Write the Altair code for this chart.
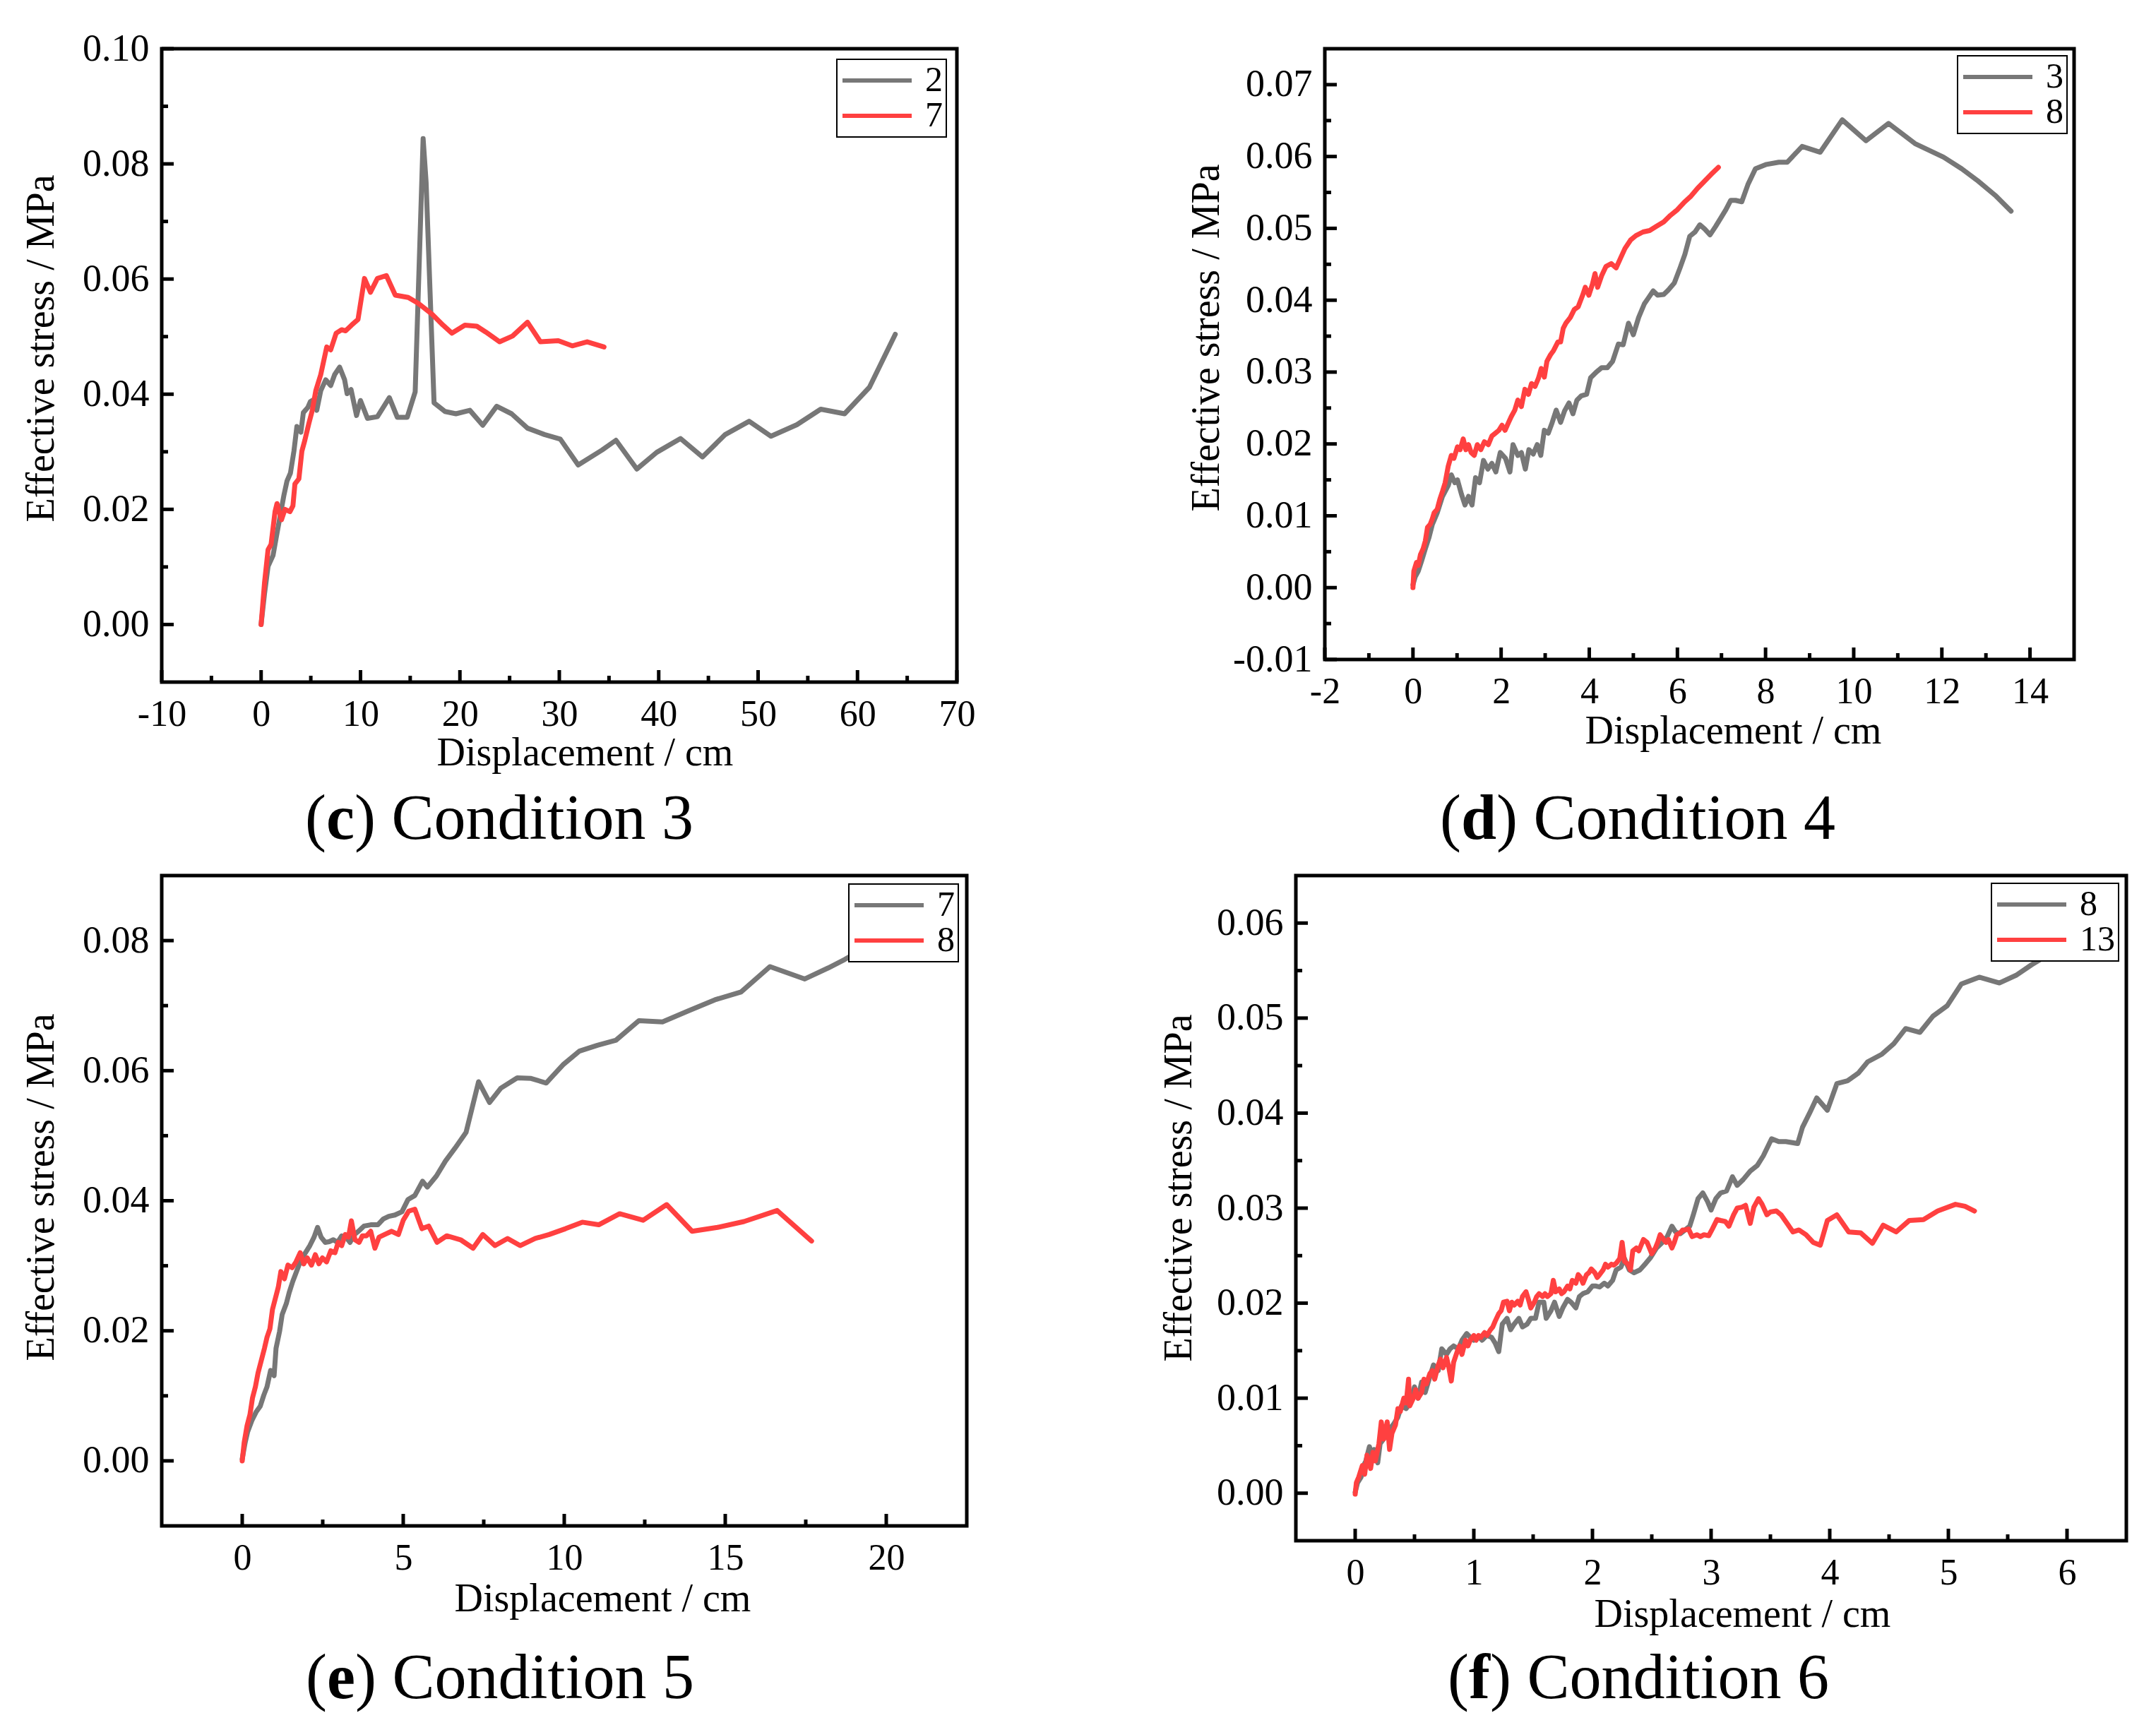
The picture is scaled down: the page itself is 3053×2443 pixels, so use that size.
import altair as alt
import pandas as pd

FONT = "Liberation Serif"
GRAY = "#777777"
RED = "#FF4040"

# ---------------- data (displacement cm, effective stress MPa) ----------------
c_gray = [(0,0),(0.34,0.0053),(0.7,0.0101),(1.2,0.012),(1.5,0.0149),(1.9,0.0187),(2.3,0.0225),(2.6,0.0249),
          (2.95,0.0263),(3.3,0.0301),(3.6,0.0344),(4.0,0.0334),(4.25,0.0368),(4.7,0.0377),(4.95,0.0387),
          (5.35,0.0391),(5.6,0.0372),(6.0,0.0406),(6.5,0.0425),(7.0,0.0415),(7.4,0.0434),(7.9,0.0447),
          (8.4,0.0425),(8.65,0.0401),(9.05,0.0408),(9.6,0.0363),(10.0,0.0389),(10.7,0.0358),(11.7,0.0361),
          (12.9,0.0394),(13.7,0.036),(14.7,0.036),(15.5,0.0404),(16.3,0.0844),(16.6,0.0768),(17.4,0.0385),
          (18.5,0.037),(19.6,0.0366),(21.0,0.0372),(22.3,0.0346),(23.7,0.0379),(25.2,0.0366),(26.8,0.0341),
          (28.5,0.033),(30.1,0.0322),(31.9,0.0277),(34.3,0.0303),(35.7,0.032),(37.8,0.027),(39.8,0.0299),
          (42.2,0.0323),(44.4,0.0291),(46.7,0.033),(49.1,0.0353),(51.3,0.0327),(53.9,0.0347),(56.3,0.0374),
          (58.7,0.0366),(61.2,0.0412),(63.8,0.0504)]
c_red = [(0,0),(0.34,0.0072),(0.7,0.013),(1.0,0.0139),(1.4,0.0196),(1.6,0.021),(2.05,0.0182),(2.4,0.020),
         (2.9,0.0196),(3.2,0.0206),(3.4,0.0244),(3.8,0.0253),(4.1,0.0301),(4.4,0.032),(4.8,0.0349),
         (5.15,0.0372),(5.5,0.0406),(6.0,0.0434),(6.6,0.0482),(7.0,0.0477),(7.55,0.0506),(8.1,0.0512),
         (8.5,0.051),(9.1,0.052),(9.75,0.053),(10.4,0.0601),(11.0,0.0577),(11.7,0.0601),(12.6,0.0606),
         (13.5,0.0572),(14.8,0.0568),(15.8,0.0558),(17.2,0.0539),(18.3,0.052),(19.2,0.0506),(20.5,0.052),
         (21.7,0.0518),(22.6,0.0508),(24.0,0.0491),(25.3,0.0501),(26.8,0.0525),(28.1,0.0491),(29.9,0.0493),
         (31.3,0.0484),(32.8,0.0491),(34.5,0.0482)]

d_gray = [(0,0.0004),(0.05,0.0015),(0.12,0.0023),(0.2,0.0038),(0.28,0.0054),(0.36,0.0069),(0.44,0.0088),
          (0.55,0.0104),(0.67,0.0127),(0.8,0.0142),(0.87,0.0157),(0.95,0.0146),(1.01,0.015),(1.1,0.013),
          (1.18,0.0115),(1.26,0.0127),(1.34,0.0115),(1.42,0.0153),(1.51,0.0146),(1.6,0.0177),(1.7,0.0165),
          (1.79,0.0173),(1.88,0.0161),(1.98,0.0188),(2.1,0.018),(2.2,0.0161),(2.27,0.0199),(2.38,0.0184),
          (2.46,0.0188),(2.55,0.0165),(2.63,0.0192),(2.73,0.0186),(2.82,0.0199),(2.9,0.0184),(2.98,0.0219),
          (3.07,0.0215),(3.16,0.023),(3.25,0.0247),(3.35,0.023),(3.44,0.0246),(3.54,0.0257),(3.63,0.0242),
          (3.72,0.0261),(3.82,0.0267),(3.94,0.0269),(4.03,0.0292),(4.16,0.030),(4.28,0.0306),(4.41,0.0306),
          (4.53,0.0315),(4.66,0.0339),(4.77,0.0338),(4.89,0.0368),(5.0,0.0352),(5.12,0.0376),(5.25,0.0395),
          (5.34,0.0403),(5.45,0.0413),(5.55,0.0407),(5.69,0.0408),(5.79,0.0414),(5.93,0.0424),(6.06,0.0445),
          (6.17,0.0464),(6.28,0.0489),(6.4,0.0495),(6.51,0.0505),(6.62,0.0499),(6.74,0.0491),(6.87,0.0503),
          (7.0,0.0516),(7.1,0.0526),(7.21,0.0539),(7.32,0.0539),(7.46,0.0537),(7.6,0.0561),(7.77,0.0583),
          (8.02,0.0589),(8.3,0.0592),(8.49,0.0592),(8.83,0.0614),(9.24,0.0606),(9.74,0.0651),(10.28,0.0622),
          (10.79,0.0646),(11.39,0.0618),(12.04,0.0599),(12.45,0.0583),(12.82,0.0566),(13.21,0.0546),
          (13.57,0.0524)]
d_red = [(0,0),(0.02,0.0023),(0.08,0.0035),(0.12,0.0031),(0.17,0.0046),(0.23,0.0054),(0.28,0.0065),
         (0.33,0.0084),(0.39,0.0088),(0.44,0.0096),(0.48,0.0104),(0.55,0.0109),(0.61,0.0123),(0.67,0.0134),
         (0.73,0.0146),(0.8,0.0169),(0.87,0.0184),(0.93,0.018),(1.01,0.0196),(1.07,0.0192),(1.14,0.0207),
         (1.2,0.0192),(1.26,0.0199),(1.32,0.0188),(1.39,0.0184),(1.46,0.0199),(1.54,0.0192),(1.62,0.0203),
         (1.71,0.0199),(1.79,0.0211),(1.87,0.0215),(1.95,0.0219),(2.02,0.0226),(2.09,0.0219),(2.17,0.023),
         (2.23,0.0238),(2.31,0.0247),(2.38,0.0261),(2.46,0.0252),(2.54,0.0276),(2.62,0.0269),(2.69,0.0284),
         (2.77,0.028),(2.85,0.0292),(2.91,0.0305),(2.98,0.0293),(3.04,0.0315),(3.12,0.0324),(3.19,0.033),
         (3.29,0.0342),(3.35,0.0342),(3.41,0.0361),(3.47,0.0368),(3.57,0.0376),(3.66,0.0387),(3.75,0.0391),
         (3.85,0.0407),(3.91,0.0418),(3.99,0.0407),(4.07,0.0422),(4.13,0.0437),(4.19,0.0418),(4.28,0.0434),
         (4.38,0.0447),(4.5,0.0451),(4.61,0.0445),(4.72,0.046),(4.81,0.0472),(4.94,0.0484),(5.06,0.049),
         (5.22,0.0495),(5.37,0.0497),(5.53,0.0503),(5.69,0.0509),(5.84,0.0518),(6.0,0.0526),(6.15,0.0536),
         (6.31,0.0545),(6.46,0.0556),(6.62,0.0566),(6.78,0.0576),(6.93,0.0585)]

e_gray = [(0,0.0003),(0.09,0.0028),(0.17,0.0045),(0.3,0.0062),(0.43,0.0075),(0.56,0.0084),(0.67,0.0101),
          (0.77,0.0114),(0.88,0.0139),(0.99,0.0131),(1.05,0.0173),(1.16,0.0199),(1.24,0.0225),(1.37,0.0242),
          (1.46,0.0259),(1.57,0.0276),(1.67,0.0289),(1.8,0.0306),(1.95,0.0319),(2.1,0.0331),(2.23,0.0344),
          (2.34,0.0359),(2.45,0.0344),(2.58,0.0336),(2.7,0.0337),(2.83,0.034),(2.96,0.0336),(3.09,0.0346),
          (3.22,0.0344),(3.35,0.0336),(3.48,0.0348),(3.61,0.0353),(3.78,0.0361),(3.99,0.0363),(4.21,0.0363),
          (4.38,0.0372),(4.55,0.0376),(4.74,0.0378),(4.96,0.0383),(5.15,0.0402),(5.36,0.0408),(5.6,0.043),
          (5.75,0.0421),(6.03,0.0438),(6.31,0.0461),(6.61,0.0481),(6.95,0.0505),(7.34,0.0583),(7.68,0.0551),
          (8.03,0.0573),(8.54,0.0589),(8.97,0.0588),(9.44,0.0581),(9.96,0.0609),(10.47,0.063),(11.03,0.0639),
          (11.61,0.0647),(12.32,0.0677),(13.05,0.0675),(13.86,0.0692),(14.68,0.0709),(15.49,0.0721),
          (16.39,0.076),(17.47,0.0741),(18.2,0.0758),(18.71,0.0771),(19.2,0.0785)]
e_red = [(0,0),(0.06,0.0028),(0.15,0.0054),(0.24,0.0071),(0.32,0.0097),(0.41,0.0114),(0.49,0.0135),
         (0.58,0.0152),(0.69,0.0173),(0.77,0.019),(0.86,0.0203),(0.94,0.0233),(1.03,0.025),(1.12,0.0267),
         (1.2,0.0291),(1.31,0.028),(1.42,0.0301),(1.55,0.0297),(1.67,0.0306),(1.8,0.032),(1.91,0.0303),
         (2.02,0.0312),(2.15,0.0301),(2.27,0.0317),(2.38,0.0303),(2.49,0.0312),(2.62,0.0306),(2.75,0.0323),
         (2.88,0.032),(2.98,0.0336),(3.09,0.0331),(3.2,0.0348),(3.3,0.0344),(3.39,0.0369),(3.5,0.034),
         (3.63,0.0336),(3.73,0.0346),(3.86,0.0346),(3.99,0.0353),(4.12,0.0327),(4.25,0.0344),(4.42,0.0348),
         (4.64,0.0353),(4.85,0.0348),(5.0,0.037),(5.17,0.0384),(5.36,0.0387),(5.58,0.0357),(5.79,0.0361),
         (6.05,0.0336),(6.35,0.0346),(6.78,0.034),(7.17,0.0327),(7.47,0.0348),(7.85,0.0331),(8.24,0.0342),
         (8.63,0.0331),(9.1,0.0342),(9.53,0.0348),(10.04,0.0357),(10.56,0.0367),(11.07,0.0363),(11.72,0.038),
         (12.45,0.037),(13.18,0.0394),(13.97,0.0353),(14.76,0.0359),(15.58,0.0368),(16.61,0.0385),
         (17.68,0.0338)]

f_gray = [(0,0.0001),(0.02,0.0011),(0.05,0.0017),(0.07,0.0029),(0.09,0.0034),(0.12,0.0049),(0.14,0.004),
          (0.16,0.0046),(0.19,0.0032),(0.21,0.0052),(0.24,0.0057),(0.27,0.0063),(0.3,0.0069),(0.32,0.0072),
          (0.36,0.008),(0.39,0.0092),(0.43,0.0089),(0.46,0.0095),(0.5,0.0112),(0.53,0.010),(0.56,0.0117),
          (0.59,0.0106),(0.63,0.0123),(0.66,0.0135),(0.7,0.0129),(0.73,0.0152),(0.77,0.0146),(0.8,0.0152),
          (0.83,0.0155),(0.87,0.0152),(0.9,0.0161),(0.94,0.0168),(0.97,0.0164),(1.0,0.0161),(1.04,0.0165),
          (1.07,0.0161),(1.11,0.0166),(1.15,0.0164),(1.18,0.0158),(1.21,0.0149),(1.24,0.0178),(1.28,0.0184),
          (1.31,0.0172),(1.34,0.0178),(1.38,0.0184),(1.41,0.0175),(1.45,0.0178),(1.48,0.0184),(1.52,0.0184),
          (1.55,0.0201),(1.59,0.0201),(1.61,0.0184),(1.65,0.0192),(1.68,0.0201),(1.72,0.0186),(1.75,0.0195),
          (1.79,0.0204),(1.82,0.0201),(1.86,0.0195),(1.89,0.0207),(1.92,0.021),(1.96,0.0212),(2.0,0.0218),
          (2.03,0.0218),(2.06,0.0217),(2.1,0.0221),(2.13,0.0218),(2.17,0.0224),(2.2,0.0235),(2.24,0.0238),
          (2.27,0.0247),(2.31,0.0235),(2.35,0.0232),(2.4,0.0235),(2.45,0.0242),(2.49,0.0248),(2.54,0.0258),
          (2.59,0.0264),(2.63,0.027),(2.67,0.0281),(2.7,0.0275),(2.74,0.0273),(2.78,0.0277),(2.82,0.0281),
          (2.85,0.0293),(2.89,0.031),(2.93,0.0316),(2.97,0.0307),(3.0,0.0298),(3.04,0.031),(3.08,0.0316),
          (3.13,0.0318),(3.18,0.0333),(3.22,0.0324),(3.27,0.033),(3.33,0.0339),(3.39,0.0345),(3.44,0.0355),
          (3.51,0.0373),(3.57,0.037),(3.63,0.037),(3.73,0.0368),(3.77,0.0385),(3.83,0.040),(3.89,0.0416),
          (3.98,0.0403),(4.06,0.0431),(4.15,0.0434),(4.24,0.0442),(4.32,0.0454),(4.44,0.0462),(4.54,0.0473),
          (4.64,0.0489),(4.76,0.0485),(4.87,0.0502),(4.99,0.0513),(5.11,0.0536),(5.26,0.0543),(5.43,0.0537),
          (5.57,0.0545),(5.7,0.0556),(5.95,0.0575)]
f_red = [(0,-0.0001),(0.01,0.0011),(0.03,0.0017),(0.06,0.0029),(0.08,0.002),(0.1,0.004),(0.13,0.0026),
         (0.15,0.0043),(0.17,0.0034),(0.2,0.0052),(0.22,0.0075),(0.24,0.0057),(0.27,0.0075),(0.29,0.0046),
         (0.31,0.0063),(0.34,0.0072),(0.36,0.0089),(0.38,0.0086),(0.41,0.010),(0.43,0.0095),(0.45,0.012),
         (0.46,0.0092),(0.49,0.010),(0.51,0.0109),(0.53,0.010),(0.56,0.0106),(0.58,0.012),(0.6,0.0115),
         (0.63,0.0126),(0.65,0.0129),(0.67,0.012),(0.7,0.0135),(0.72,0.0141),(0.74,0.0132),(0.77,0.0143),
         (0.79,0.0132),(0.81,0.0118),(0.83,0.0138),(0.86,0.0149),(0.88,0.0155),(0.9,0.0146),(0.93,0.0161),
         (0.95,0.0155),(0.97,0.0161),(1.0,0.0166),(1.02,0.0161),(1.04,0.0166),(1.06,0.0164),(1.09,0.0169),
         (1.11,0.0166),(1.14,0.0172),(1.16,0.0175),(1.18,0.0181),(1.21,0.0189),(1.23,0.0192),(1.25,0.0201),
         (1.28,0.0202),(1.3,0.0192),(1.32,0.0201),(1.34,0.0198),(1.37,0.0202),(1.39,0.0198),(1.41,0.0207),
         (1.44,0.0212),(1.46,0.0204),(1.48,0.0195),(1.51,0.0201),(1.53,0.0207),(1.55,0.021),(1.58,0.0207),
         (1.6,0.021),(1.62,0.0207),(1.65,0.021),(1.67,0.0224),(1.69,0.0212),(1.72,0.0215),(1.74,0.021),
         (1.76,0.0212),(1.79,0.0218),(1.81,0.0215),(1.83,0.0224),(1.86,0.0221),(1.88,0.023),(1.9,0.0227),
         (1.92,0.0221),(1.95,0.023),(1.97,0.0232),(1.99,0.0236),(2.02,0.0232),(2.04,0.0227),(2.06,0.023),
         (2.09,0.0235),(2.11,0.0241),(2.13,0.0238),(2.16,0.0241),(2.18,0.024),(2.2,0.0242),(2.23,0.0247),
         (2.25,0.0264),(2.27,0.0244),(2.3,0.0241),(2.32,0.0235),(2.34,0.0255),(2.37,0.0258),(2.39,0.0255),
         (2.41,0.0261),(2.43,0.0267),(2.46,0.0264),(2.48,0.0258),(2.5,0.0252),(2.53,0.0258),(2.55,0.0264),
         (2.57,0.0272),(2.6,0.0267),(2.62,0.0264),(2.64,0.0267),(2.67,0.0258),(2.69,0.0264),(2.71,0.0272),
         (2.74,0.0274),(2.76,0.0277),(2.78,0.0277),(2.81,0.0278),(2.84,0.027),(2.88,0.0272),(2.91,0.027),
         (2.94,0.0272),(2.98,0.0271),(3.01,0.0278),(3.05,0.0288),(3.08,0.0287),(3.12,0.0286),(3.15,0.0281),
         (3.19,0.0293),(3.22,0.030),(3.26,0.0301),(3.29,0.0303),(3.33,0.0284),(3.36,0.0301),(3.4,0.031),
         (3.43,0.0304),(3.47,0.0293),(3.5,0.0296),(3.55,0.0297),(3.59,0.0293),(3.64,0.0284),(3.69,0.0275),
         (3.74,0.0277),(3.8,0.0272),(3.86,0.0264),(3.92,0.0261),(3.98,0.0287),(4.06,0.0293),(4.16,0.0275),
         (4.26,0.0274),(4.36,0.0263),(4.45,0.0282),(4.56,0.0275),(4.67,0.0287),(4.79,0.0288),(4.91,0.0297),
         (5.06,0.0304),(5.14,0.0302),(5.22,0.0297)]

# series labels (legend)
c_names = ["2", "7"]
d_names = ["3", "8"]
e_names = ["7", "8"]
f_names = ["8", "13"]

# axis domains and tick values
c_xdom, c_ydom = [-10, 70], [-0.01, 0.10]
d_xdom, d_ydom = [-2, 15], [-0.01, 0.075]
e_xdom, e_ydom = [-2.5, 22.5], [-0.01, 0.09]
f_xdom, f_ydom = [-0.5, 6.5], [-0.005, 0.065]

c_xlab = [-10, 0, 10, 20, 30, 40, 50, 60, 70]
c_xminor = [-5, 5, 15, 25, 35, 45, 55, 65]
c_ylab = [0.0, 0.02, 0.04, 0.06, 0.08, 0.10]
c_yminor = [0.01, 0.03, 0.05, 0.07, 0.09]

d_xlab = [-2, 0, 2, 4, 6, 8, 10, 12, 14]
d_xminor = [-1, 1, 3, 5, 7, 9, 11, 13]
d_ylab = [-0.01, 0.0, 0.01, 0.02, 0.03, 0.04, 0.05, 0.06, 0.07]
d_yminor = [-0.005, 0.005, 0.015, 0.025, 0.035, 0.045, 0.055, 0.065]

e_xlab = [0, 5, 10, 15, 20]
e_xminor = [2.5, 7.5, 12.5, 17.5]
e_ylab = [0.0, 0.02, 0.04, 0.06, 0.08]
e_yminor = [0.01, 0.03, 0.05, 0.07]

f_xlab = [0, 1, 2, 3, 4, 5, 6]
f_xminor = [0.5, 1.5, 2.5, 3.5, 4.5, 5.5]
f_ylab = [0.0, 0.01, 0.02, 0.03, 0.04, 0.05, 0.06]
f_yminor = [0.005, 0.015, 0.025, 0.035, 0.045, 0.055]

XLAB_EXPR = "datum.value < 0 ? '-' + format(-datum.value, 'd') : format(datum.value, 'd')"
YLAB_EXPR = "datum.value < 0 ? '-' + format(-datum.value, '.2f') : format(datum.value, '.2f')"

BOLD_W = {"c": 40, "d": 50, "e": 40, "f": 30}


def panel(gray, red, names, xdom, ydom, xlab, xminor, ylab, yminor, W, H,
          xt_x, xt_y, yt_x, yt_y, letter, rest, cap_cx, cap_y, leg_off):
    gdf = pd.DataFrame(gray, columns=["x", "y"])
    gdf["s"] = names[0]
    gdf["o"] = range(len(gdf))
    rdf = pd.DataFrame(red, columns=["x", "y"])
    rdf["s"] = names[1]
    rdf["o"] = range(len(rdf))

    xs = alt.Scale(domain=xdom, nice=False, zero=False)
    ys = alt.Scale(domain=ydom, nice=False, zero=False)
    xaxis = alt.Axis(values=xlab, title="Displacement / cm", grid=False, ticks=False, tickSize=0,
                     domain=False, labelFont=FONT, labelFontSize=52, labelColor="black",
                     labelPadding=20, labelFlush=False, labelOverlap=False, labelExpr=XLAB_EXPR,
                     titleFont=FONT, titleFontSize=56, titleFontWeight="normal", titleColor="black",
                     titleX=xt_x, titleY=xt_y, titleBaseline="alphabetic", titleAlign="center")
    yaxis = alt.Axis(values=ylab, title="Effective stress / MPa", grid=False, ticks=False, tickSize=0,
                     domain=False, labelFont=FONT, labelFontSize=54, labelColor="black",
                     labelPadding=18, labelFlush=False, labelOverlap=False, labelExpr=YLAB_EXPR,
                     titleFont=FONT, titleFontSize=56, titleFontWeight="normal", titleColor="black",
                     titleAngle=270, titleX=yt_x, titleY=yt_y, titleBaseline="top", titleAlign="center")
    color = alt.Color("s:N", scale=alt.Scale(domain=names, range=[GRAY, RED]),
                      legend=alt.Legend(title=None, orient="top-right", offset=leg_off,
                                        fillColor="white", strokeColor="black", padding=5,
                                        symbolType="stroke", symbolSize=9604, symbolStrokeWidth=6,
                                        labelFont=FONT, labelFontSize=50, labelColor="black",
                                        labelOffset=16, clipHeight=50, rowPadding=0))

    X = alt.X("x:Q", scale=xs, axis=xaxis)
    Y = alt.Y("y:Q", scale=ys, axis=yaxis)

    def line(df):
        return alt.Chart(df).mark_line(strokeWidth=7, strokeJoin="round", strokeCap="round").encode(
            x=X, y=Y, color=color, order=alt.Order("o:Q"))

    def xticks(vals, length):
        return alt.Chart(pd.DataFrame({"x": vals})).mark_rule(color="black", strokeWidth=5).encode(
            x=X, y=alt.value(H), y2=alt.value(H - length))

    def yticks(vals, length):
        return alt.Chart(pd.DataFrame({"y": vals})).mark_rule(color="black", strokeWidth=5).encode(
            y=Y, x=alt.value(0), x2=alt.value(length))

    wl = BOLD_W[letter]
    total = 30 + wl + 480
    left = cap_cx - total / 2

    def cap(text, x, align, weight):
        return alt.Chart(pd.DataFrame({"t": [text]})).mark_text(
            font=FONT, fontSize=90, align=align, baseline="alphabetic", color="black",
            fontWeight=weight).encode(text="t:N", x=alt.value(x), y=alt.value(cap_y))

    layers = [
        line(gdf), line(rdf),
        xticks(xlab, 17), xticks(xminor, 9), yticks(ylab, 17), yticks(yminor, 9),
        cap("(", left + 30, "right", "normal"),
        cap(letter, left + 30 + wl / 2, "center", "bold"),
        cap(rest, left + 30 + wl, "left", "normal"),
    ]
    return alt.layer(*layers).properties(width=W, height=H)


pc = panel(c_gray, c_red, c_names, c_xdom, c_ydom, c_xlab, c_xminor, c_ylab, c_yminor, 1126, 897,
           599, 117, -198, 424, "c", ") Condition 3", 478, 1119, 15)
pd_ = panel(d_gray, d_red, d_names, d_xdom, d_ydom, d_xlab, d_xminor, d_ylab, d_yminor, 1061, 865,
            578, 118, -195, 409, "d", ") Condition 4", 443, 1119, 10)
pe = panel(e_gray, e_red, e_names, e_xdom, e_ydom, e_xlab, e_xminor, e_ylab, e_yminor, 1140, 921,
           624, 120, -198, 441, "e", ") Condition 5", 479, 1165, 12)
pf = panel(f_gray, f_red, f_names, f_xdom, f_ydom, f_xlab, f_xminor, f_ylab, f_yminor, 1176, 942,
           632, 121, -193, 442, "f", ") Condition 6", 485, 1165, 11)

row1 = alt.hconcat(pc, pd_, spacing=521, bounds="flush").resolve_scale(color="independent")
row2 = alt.hconcat(pe, pf, spacing=466, bounds="flush").resolve_scale(color="independent")

chart = (
    alt.vconcat(row1, row2, spacing=28)
    .resolve_scale(color="independent")
    .properties(padding={"left": 19, "top": 31, "right": 0, "bottom": 0}, background="white")
    .configure_view(stroke="black", strokeWidth=5)
    .configure_legend(strokeWidth=2)
)

chart.save("out.html", embed_options={"renderer": "svg", "actions": False})
